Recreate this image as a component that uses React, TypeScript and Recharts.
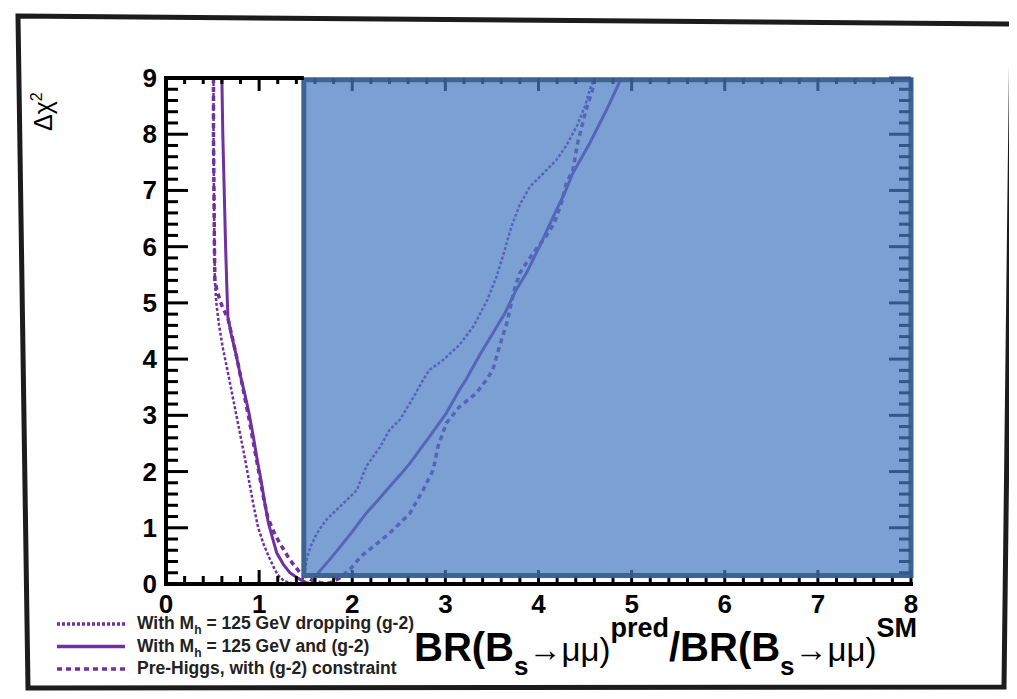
import React from "react";
import { LineChart, Line, XAxis, YAxis, ReferenceArea } from "recharts";

const PURPLE = "#7030a0";
const FONT = "'Liberation Sans', Arial, Helvetica, sans-serif";

const X_MAJOR = [0, 1, 2, 3, 4, 5, 6, 7, 8];
const Y_MAJOR = [0, 1, 2, 3, 4, 5, 6, 7, 8, 9];
const MINOR_PER_UNIT = 5;

// [BR ratio, delta chi^2], left branch then right branch
const DROPPING: [number, number][] = [
  [0.51, 9], [0.51, 8], [0.515, 7], [0.52, 6], [0.525, 5.4], [0.54, 5.0], [0.57, 4.6],
  [0.61, 4.2], [0.66, 3.8], [0.72, 3.3], [0.78, 2.8], [0.84, 2.3], [0.89, 1.85], [0.94, 1.4],
  [0.99, 1.0], [1.05, 0.7], [1.1, 0.5], [1.15, 0.32], [1.2, 0.16], [1.27, 0.05], [1.36, 0.01],
  [1.45, 0.0], [1.49, 0.2], [1.51, 0.43], [1.55, 0.66], [1.62, 0.9], [1.72, 1.14], [1.87, 1.38],
  [2.05, 1.67], [2.15, 2.09], [2.3, 2.44], [2.4, 2.74], [2.51, 2.92], [2.65, 3.3], [2.76, 3.63],
  [2.83, 3.81], [2.98, 3.99], [3.15, 4.25], [3.3, 4.58], [3.45, 5.05], [3.55, 5.47], [3.63, 5.9],
  [3.71, 6.36], [3.8, 6.75], [3.91, 7.07], [4.05, 7.3], [4.19, 7.54], [4.3, 7.8], [4.41, 8.14],
  [4.5, 8.5], [4.55, 8.79], [4.6, 9.0],
];

const WITH_G2: [number, number][] = [
  [0.6, 9], [0.61, 8], [0.625, 7], [0.64, 6], [0.655, 5.2], [0.665, 4.75], [0.7, 4.45],
  [0.75, 4.1], [0.8, 3.7], [0.85, 3.35], [0.89, 3.05], [0.94, 2.6], [0.98, 2.2], [1.02, 1.85],
  [1.06, 1.45], [1.1, 1.08], [1.15, 0.78], [1.19, 0.55], [1.26, 0.35], [1.33, 0.2], [1.42, 0.1],
  [1.5, 0.03], [1.56, 0.0], [1.63, 0.19], [1.75, 0.42], [1.87, 0.66], [2.0, 0.93], [2.15, 1.26],
  [2.28, 1.5], [2.4, 1.73], [2.52, 1.95], [2.62, 2.15], [2.83, 2.62], [3.01, 3.04], [3.15, 3.45],
  [3.22, 3.63], [3.28, 3.81], [3.4, 4.16], [3.51, 4.46], [3.64, 4.82], [3.76, 5.23], [3.87, 5.53],
  [4.01, 6.0], [4.16, 6.54], [4.28, 6.95], [4.37, 7.31], [4.55, 7.84], [4.73, 8.43], [4.89, 9.0],
];

const PRE_HIGGS: [number, number][] = [
  [0.51, 9], [0.51, 8], [0.515, 7], [0.52, 6], [0.525, 5.4], [0.55, 5.2], [0.6, 4.95],
  [0.665, 4.72], [0.71, 4.4], [0.77, 3.95], [0.83, 3.45], [0.89, 2.95], [0.94, 2.5], [0.99, 2.05],
  [1.04, 1.6], [1.09, 1.2], [1.15, 0.95], [1.22, 0.73], [1.33, 0.43], [1.44, 0.2], [1.55, 0.08],
  [1.66, 0.02], [1.76, 0.02], [1.86, 0.1], [1.97, 0.25], [2.1, 0.5], [2.22, 0.66], [2.4, 0.9],
  [2.62, 1.26], [2.76, 1.67], [2.87, 2.03], [2.92, 2.44], [3.01, 2.86], [3.15, 3.15], [3.33, 3.39],
  [3.44, 3.63], [3.51, 3.81], [3.58, 4.22], [3.66, 4.64], [3.74, 5.23], [3.8, 5.53], [3.87, 5.71],
  [3.98, 5.97], [4.08, 6.18], [4.17, 6.42], [4.25, 6.8], [4.3, 7.13], [4.37, 7.37], [4.42, 7.84],
  [4.51, 8.43], [4.58, 8.79], [4.6, 9.0],
];

// excluded region (shaded box)
const BOX_X = [1.48, 8];
const BOX_Y = [0.15, 8.97];

const SERIES = [
  { id: "drop", pts: DROPPING, label: ["With M", "h", " = 125 GeV dropping (g-2)"], dash: "3 2", width: 2.5 },
  { id: "g2", pts: WITH_G2, label: ["With M", "h", " = 125 GeV and (g-2)"], dash: undefined, width: 3 },
  { id: "pre", pts: PRE_HIGGS, label: ["Pre-Higgs, with (g-2) constraint"], dash: "5 4", width: 3.5 },
];

// plot frame on the page (chart sits at the 8px body margin)
const PLOT_LEFT = 166;
const PLOT_TOP = 78;
const PLOT_W = 745;
const PLOT_H = 506;
const px = (v: number) => PLOT_LEFT + (v / 8) * PLOT_W;
const py = (v: number) => PLOT_TOP + PLOT_H - (v / 9) * PLOT_H;
const UNDER_BOX = "#34578a"; // black tick seen through the shaded box

function allTicks(major: number[]) {
  const out: number[] = [];
  for (let i = 0; i < major.length - 1; i++)
    for (let k = 0; k < MINOR_PER_UNIT; k++) out.push(+(major[i] + k / MINOR_PER_UNIT).toFixed(2));
  out.push(major[major.length - 1]);
  return out;
}
const isMajor = (v: number) => Math.abs(v - Math.round(v)) < 1e-6;

const labelStyle = { fontFamily: FONT, fontSize: 26, fontWeight: "bold" as const, fill: "#000" };
const axisLine = { stroke: "#000", strokeWidth: 4 };

function BottomLabel({ x, y, payload }: any) {
  return (
    <text x={x} y={y + 29} textAnchor="middle" style={labelStyle}>
      {payload.value}
    </text>
  );
}

function LeftLabel({ x, y, payload }: any) {
  return (
    <text x={x - 9} y={y + 9} textAnchor="end" style={labelStyle}>
      {payload.value}
    </text>
  );
}

function Ticks() {
  const xs = allTicks(X_MAJOR);
  const ys = allTicks(Y_MAJOR);
  const boxBottom = py(BOX_Y[0]) + 2.5;
  const els: React.ReactNode[] = [];
  xs.forEach((v) => {
    const x = px(v);
    const inBox = v >= BOX_X[0];
    const bl = isMajor(v) ? 14 : 8;
    const tl = isMajor(v) ? 13 : 6;
    const y0 = py(0);
    if (inBox && y0 - bl < boxBottom) {
      els.push(<line key={`b${v}`} x1={x} x2={x} y1={y0} y2={boxBottom} stroke="#000" strokeWidth={3} />);
      els.push(<line key={`bb${v}`} x1={x} x2={x} y1={boxBottom} y2={y0 - bl} stroke={UNDER_BOX} strokeWidth={3} />);
    } else {
      els.push(<line key={`b${v}`} x1={x} x2={x} y1={y0} y2={y0 - bl} stroke="#000" strokeWidth={3} />);
    }
    els.push(
      <line key={`t${v}`} x1={x} x2={x} y1={py(9)} y2={py(9) + tl} stroke={inBox ? UNDER_BOX : "#000"}
        strokeWidth={3} />
    );
  });
  ys.forEach((v) => {
    const y = py(v);
    const len = isMajor(v) ? 22 : 12;
    els.push(<line key={`l${v}`} x1={px(0)} x2={px(0) + len} y1={y} y2={y} stroke="#000" strokeWidth={3} />);
    els.push(<line key={`r${v}`} x1={px(8)} x2={px(8) - len} y1={y} y2={y} stroke={UNDER_BOX} strokeWidth={3} />);
  });
  return (
    <g>
      {els}
      <line x1={px(0)} x2={px(0)} y1={py(9) - 2} y2={py(0) + 2} stroke="#000" strokeWidth={4} />
      <line x1={px(0) - 2} x2={px(8) + 2} y1={py(0)} y2={py(0)} stroke="#000" strokeWidth={4} />
      <line x1={px(0) - 2} x2={px(BOX_X[0])} y1={py(9)} y2={py(9)} stroke="#000" strokeWidth={4} />
    </g>
  );
}

export default function App() {
  return (
    <div style={{ position: "relative", width: 1001, height: 683, fontFamily: FONT }}>
      <LineChart width={1001} height={683} margin={{ top: 70, right: 98, bottom: 67, left: 98 }}>
        <XAxis xAxisId="b" type="number" dataKey="x" domain={[0, 8]} ticks={X_MAJOR} interval={0}
          height={40} tickSize={0} tickMargin={0} tickLine={false} axisLine={axisLine} tick={<BottomLabel />} />
        <XAxis xAxisId="t" orientation="top" type="number" dataKey="x" domain={[0, 8]} ticks={X_MAJOR}
          interval={0} height={0} tick={false} tickLine={false} axisLine={axisLine} />
        <YAxis yAxisId="l" type="number" domain={[0, 9]} ticks={Y_MAJOR} interval={0} width={60}
          tickSize={0} tickMargin={0} tickLine={false} axisLine={axisLine} tick={<LeftLabel />} />
        <YAxis yAxisId="r" orientation="right" type="number" domain={[0, 9]} ticks={Y_MAJOR} interval={0}
          width={0} tick={false} tickLine={false} axisLine={axisLine} />

        {SERIES.map((s) => (
          <Line
            key={s.id}
            xAxisId="b"
            yAxisId="l"
            data={s.pts.map(([x, y]) => ({ x, y }))}
            dataKey="y"
            type="linear"
            stroke={PURPLE}
            strokeWidth={s.width}
            strokeDasharray={s.dash}
            dot={false}
            activeDot={false}
            isAnimationActive={false}
          />
        ))}
        <ReferenceArea xAxisId="b" yAxisId="l" x1={BOX_X[0]} x2={BOX_X[1]} y1={BOX_Y[0]} y2={BOX_Y[1]}
          fill="#4a7cc2" fillOpacity={0.72} stroke="#3d6492" strokeWidth={5} ifOverflow="visible"
          zIndex={2000} />
      </LineChart>

      <svg width={1017} height={699} style={{ position: "absolute", left: -8, top: -8, pointerEvents: "none" }}>
        <polygon points="18,16 1012,24 1004,687 28,688" fill="none" stroke="#1c1c1c" strokeWidth={5} />

        <Ticks />

        <text transform="rotate(-90 52 131)" x={52} y={131} fontFamily={FONT} fontSize={25} fill="#000">
          Δχ<tspan dy={-10} fontSize={16}>2</tspan>
        </text>

        <text x={414} y={661} fontFamily={FONT} fill="#000">
          <tspan fontSize={40} fontWeight="bold">BR(B</tspan>
          <tspan fontSize={26} fontWeight="bold" dy={14}>s</tspan>
          <tspan fontSize={33} dy={-14}>→μμ)</tspan>
          <tspan fontSize={27} fontWeight="bold" dy={-24}>pred</tspan>
          <tspan fontSize={40} fontWeight="bold" dy={24}>/BR(B</tspan>
          <tspan fontSize={26} fontWeight="bold" dy={14}>s</tspan>
          <tspan fontSize={33} dy={-14}>→μμ)</tspan>
          <tspan fontSize={27} fontWeight="bold" dy={-24}>SM</tspan>
        </text>

        {SERIES.map((s, i) => {
          const y = 624 + i * 22.5;
          return (
            <g key={s.id}>
              <line x1={57} x2={125} y1={y} y2={y} stroke={PURPLE} strokeWidth={3.5} strokeDasharray={s.dash} />
              <text x={137} y={y + 5} fontFamily={FONT} fontSize={17.5} fontWeight="bold" fill="#222">
                <tspan>{s.label[0]}</tspan>
                {s.label.length > 1 && <tspan dy={5} fontSize={12}>{s.label[1]}</tspan>}
                {s.label.length > 1 && <tspan dy={-5}>{s.label[2]}</tspan>}
              </text>
            </g>
          );
        })}
      </svg>
    </div>
  );
}
